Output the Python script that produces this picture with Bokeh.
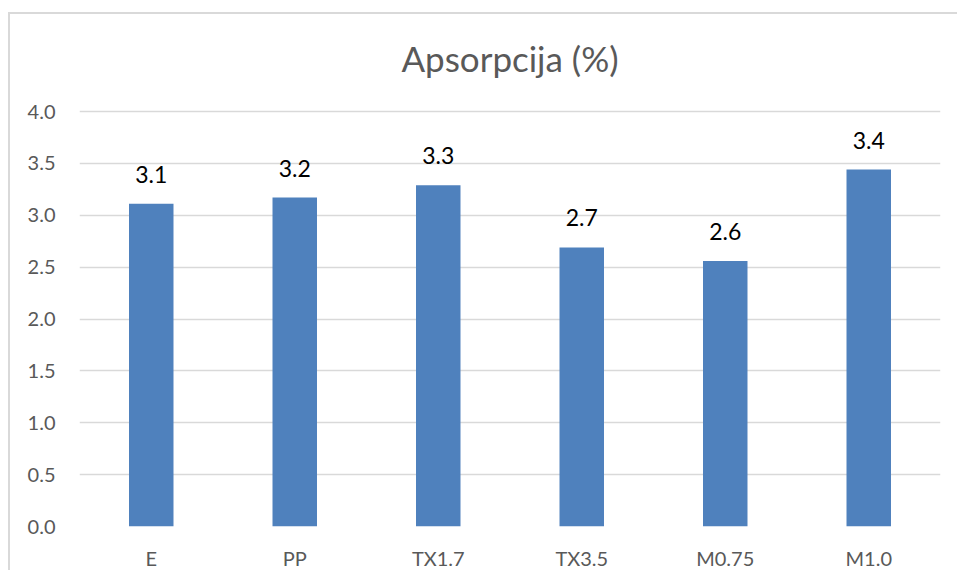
from bokeh.plotting import figure
from bokeh.models import ColumnDataSource, NumeralTickFormatter, FixedTicker, Range1d, FactorRange, Label
from bokeh.core.properties import value
from bokeh.embed import file_html
from bokeh.resources import INLINE

categories = ["E", "PP", "TX1.7", "TX3.5", "M0.75", "M1.0"]
absorption = [3.11, 3.17, 3.29, 2.69, 2.56, 3.44]
y_ticks = [0.0, 0.5, 1.0, 1.5, 2.0, 2.5, 3.0, 3.5, 4.0]
title_text = "Apsorpcija (%)"

labels = [f"{v:.1f}" for v in absorption]
src = ColumnDataSource(dict(cat=categories, val=absorption, lab=labels))

FONT = "Lato"

# the frame reaches the top of the chart; axis ticks stop at 4.0, room above holds the title
p = figure(
    x_range=FactorRange(*categories, range_padding=0),
    y_range=Range1d(0, 4.935),
    width=949, height=558,
    output_backend="svg", toolbar_location=None,
    min_border_left=69, min_border_right=19, min_border_top=0, min_border_bottom=46,
    styles={"border-left": "2px solid #d9d9d9", "border-top": "2px solid #d9d9d9"},
)
p.margin = (12, 0, 0, 8)

title = Label(x=len(categories) / 2, y=4.52, text=title_text, text_align="center",
              text_baseline="alphabetic", text_font=FONT, text_font_size="35px",
              text_color="#595959")
p.add_layout(title)

p.vbar(x="cat", top="val", width=0.31, source=src, fill_color="#4F81BD", line_color=None)

p.text(x="cat", y="val", text="lab", source=src, text_align="center", text_baseline="bottom",
       y_offset=-21, text_font=value(FONT), text_font_size="23px", text_color="#000000")

p.outline_line_color = None
p.xgrid.grid_line_color = None
p.ygrid.grid_line_color = "#d9d9d9"
p.ygrid.grid_line_width = 1.5
p.yaxis.ticker = FixedTicker(ticks=y_ticks)
p.ygrid.ticker = FixedTicker(ticks=y_ticks)
p.yaxis.formatter = NumeralTickFormatter(format="0.0")

for ax in (p.xaxis, p.yaxis):
    ax.axis_line_color = None
    ax.major_tick_line_color = None
    ax.minor_tick_line_color = None
    ax.major_tick_out = 0
    ax.major_tick_in = 0
    ax.minor_tick_out = 0
    ax.major_label_text_font = FONT
    ax.major_label_text_font_size = "20px"
    ax.major_label_text_color = "#595959"

p.yaxis.major_label_standoff = 24
p.xaxis.major_label_standoff = 19

open("out.html", "w").write(file_html(p, INLINE))
